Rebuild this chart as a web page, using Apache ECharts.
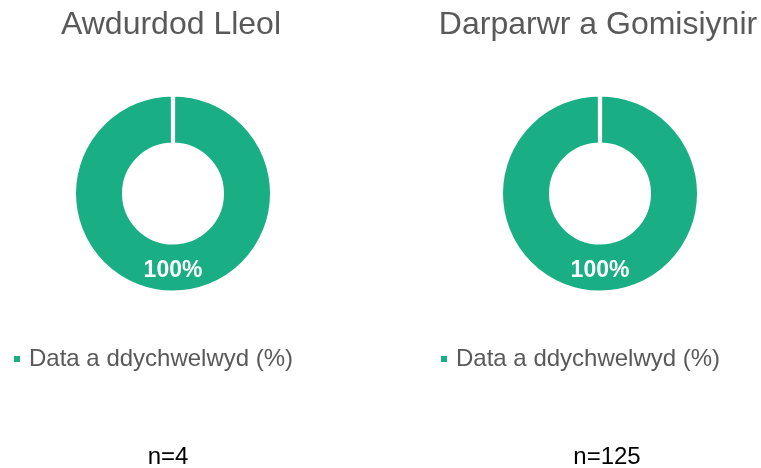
<!DOCTYPE html>
<html>
<head>
<meta charset="utf-8">
<style>
  html, body { margin: 0; padding: 0; background: #ffffff; }
  #chart { width: 761px; height: 468px; }
</style>
<script src="https://cdn.jsdelivr.net/npm/echarts@6/dist/echarts.min.js"></script>
</head>
<body>
<div id="chart"></div>
<script>
// Group titles, one donut per group
const groupTitles = ['Awdurdod Lleol', 'Darparwr a Gomisiynir'];
// Share of data returned (%) for each group
const returnedValues = [100, 100];
// Respondent counts shown under each donut
const sampleSizes = [4, 125];
const seriesName = 'Data a ddychwelwyd (%)';

const green = '#19AE84';
const grey = '#595959';
const font = 'Liberation Sans, Arial, sans-serif';

const centersX = [173, 600];
const titleX = [171, 598];
const countX = [168, 607];
const legendX = [12, 439];

const chart = echarts.init(document.getElementById('chart'), null, { renderer: 'canvas' });

const titles = [];
const legends = [];
const series = [];

groupTitles.forEach((name, i) => {
  titles.push({
    text: name,
    left: titleX[i],
    top: 9,
    padding: 0,
    textAlign: 'center',
    textStyle: { fontFamily: font, fontSize: 32, fontWeight: 'normal', color: grey }
  });
  titles.push({
    text: 'n=' + sampleSizes[i],
    left: countX[i],
    top: 445,
    padding: 0,
    textAlign: 'center',
    textStyle: { fontFamily: font, fontSize: 24, fontWeight: 'normal', color: '#000000' }
  });
  legends.push({
    left: legendX[i],
    top: 347,
    padding: 0,
    icon: 'rect',
    itemWidth: 8,
    itemHeight: 8,
    selectedMode: false,
    data: [seriesName],
    textStyle: { fontFamily: font, fontSize: 24, color: grey, padding: [0, 0, 0, 3] }
  });
  // The white slice border leaves a thin seam where the ring starts at 12 o'clock
  series.push({
    type: 'pie',
    name: name,
    center: [centersX[i], 193.5],
    radius: [49, 99],
    startAngle: 89.9,
    endAngle: -269.9,
    clockwise: true,
    silent: true,
    animation: false,
    itemStyle: { color: green, borderColor: '#ffffff', borderWidth: 4 },
    label: {
      show: true,
      position: 'inside',
      formatter: '{d}%',
      color: '#ffffff',
      fontFamily: font,
      fontSize: 23,
      fontWeight: 'bold'
    },
    labelLine: { show: false },
    data: [{ name: seriesName, value: returnedValues[i] }]
  });
});

chart.setOption({
  animation: false,
  title: titles,
  legend: legends,
  series: series
});
</script>
</body>
</html>
